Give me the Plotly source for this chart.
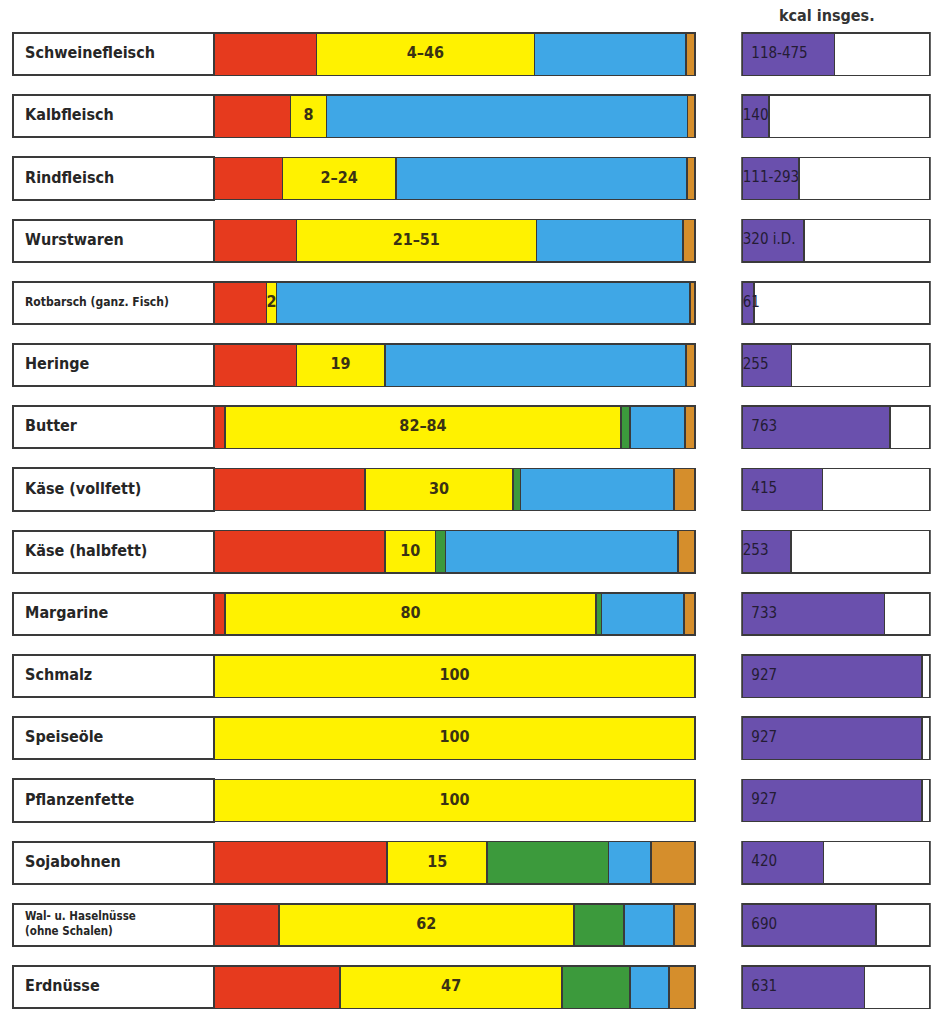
import plotly.graph_objects as go

# ---------------- data ----------------
foods = ["Schweinefleisch", "Kalbfleisch", "Rindfleisch", "Wurstwaren",
         "Rotbarsch (ganz. Fisch)", "Heringe", "Butter", "Käse (vollfett)",
         "Käse (halbfett)", "Margarine", "Schmalz", "Speiseöle", "Pflanzenfette",
         "Sojabohnen", "Wal- u. Haselnüsse<br>(ohne Schalen)", "Erdnüsse"]

# shares of the bar (percent)
protein = [21.3, 15.9, 14.2, 17.1, 10.9, 17.1, 2.3, 31.4, 35.6, 2.3, 0, 0, 0, 36.0, 13.5, 26.2]
fat     = [45.3, 7.5, 23.6, 49.9, 2.1, 18.4, 82.3, 30.8, 10.4, 77.1, 100, 100, 100, 20.8, 61.3, 46.2]
carbs   = [0, 0, 0, 0, 0, 0, 1.9, 1.5, 2.1, 1.2, 0, 0, 0, 25.2, 10.4, 14.1]
water   = [31.5, 75.0, 60.5, 30.5, 86.0, 62.6, 11.4, 31.9, 48.4, 17.1, 0, 0, 0, 8.9, 10.4, 8.1]
mineral = [1.9, 1.6, 1.7, 2.5, 1.0, 1.9, 2.1, 4.4, 3.5, 2.3, 0, 0, 0, 9.1, 4.4, 5.4]

fat_labels = ["4–46", "8", "2–24", "21–51", "2", "19", "82–84", "30", "10", "80",
              "100", "100", "100", "15", "62", "47"]

kcal = [475, 140, 293, 320, 61, 255, 763, 415, 253, 733, 927, 927, 927, 420, 690, 631]
kcal_labels = ["118-475", "140", "111-293", "320 i.D.", "61", "255", "763", "415", "253",
               "733", "927", "927", "927", "420", "690", "631"]
kcal_max = 968

# ---------------- style ----------------
W, H = 933, 1011
RED, YEL, GRN, BLU, ORA, PUR = "#e63a1e", "#fff200", "#3c9a3c", "#3fa7e6", "#d58e2c", "#6a50ad"
EDGE = "#3a3a3a"
FONT = "DejaVu Sans Condensed, Liberation Sans Narrow, sans-serif"
BAR_W = 0.68


def dom(px0, px1, v0, v1, pad):
    k = (px1 - px0) / (v1 - v0)
    r0, r1 = v0 - pad, v1 + pad
    a, b = px0 - pad * k, px1 + pad * k
    return [a / W, b / W], [r0, r1]


main_dom, main_rng = dom(214, 695, 0, 100, 0.5)
kcal_dom, kcal_rng = dom(742, 930, 0, kcal_max, 4)
lab_dom, lab_rng = dom(13, 214, 0, 1, 0.01)

fig = go.Figure()

# label boxes
fig.add_bar(y=foods, x=[1] * len(foods), orientation="h", xaxis="x3", yaxis="y",
            marker=dict(color="white", line=dict(color=EDGE, width=2)), width=BAR_W,
            hoverinfo="skip", showlegend=False)
small = {"Rotbarsch (ganz. Fisch)": 12, "Wal- u. Haselnüsse<br>(ohne Schalen)": 11.5}
fig.add_scatter(y=foods, x=[0.06] * len(foods), xaxis="x3", yaxis="y", mode="text",
                text=[f"<b>{f}</b>" for f in foods], textposition="middle right",
                textfont=dict(family=FONT, size=[small.get(f, 16) for f in foods], color="#262626"),
                hoverinfo="skip", showlegend=False)

# composition bars
for vals, col, name in [(protein, RED, "Eiweiß"), (fat, YEL, "Fett"), (carbs, GRN, "Kohlenhydrate"),
                        (water, BLU, "Wasser"), (mineral, ORA, "Mineralstoffe")]:
    fig.add_bar(y=foods, x=vals, orientation="h", xaxis="x", yaxis="y", name=name,
                marker=dict(color=col, line=dict(color=EDGE, width=1.5)), width=BAR_W,
                showlegend=False)

fat_mid = [p + f / 2 for p, f in zip(protein, fat)]
fig.add_scatter(y=foods, x=fat_mid, xaxis="x", yaxis="y", mode="text",
                text=[f"<b>{t}</b>" for t in fat_labels],
                textposition="middle center",
                textfont=dict(family=FONT, size=16, color="#3a3214"),
                hoverinfo="skip", showlegend=False)

# kcal bars
fig.add_bar(y=foods, x=kcal, orientation="h", xaxis="x2", yaxis="y",
            marker=dict(color=PUR, line=dict(color=EDGE, width=1.5)), width=BAR_W,
            showlegend=False)
fig.add_bar(y=foods, x=[kcal_max - v for v in kcal], orientation="h", xaxis="x2", yaxis="y",
            marker=dict(color="white", line=dict(color=EDGE, width=1.5)), width=BAR_W,
            hoverinfo="skip", showlegend=False)
fig.add_scatter(y=foods, x=[48 if v > 350 else 4 for v in kcal], xaxis="x2", yaxis="y",
                mode="text", text=kcal_labels, textposition="middle right",
                textfont=dict(family=FONT, size=15, color="#241c34"),
                hoverinfo="skip", showlegend=False)

pitch = 62.2
top_u = -0.5 - 23 / pitch
bot_u = top_u + H / pitch

axis_off = dict(visible=False, showgrid=False, zeroline=False, fixedrange=True)
fig.update_layout(
    width=W, height=H, margin=dict(l=0, r=0, t=0, b=0),
    paper_bgcolor="white", plot_bgcolor="rgba(0,0,0,0)",
    barmode="stack", showlegend=False,
    xaxis=dict(domain=main_dom, range=main_rng, **axis_off),
    xaxis2=dict(domain=kcal_dom, range=kcal_rng, anchor="y", **axis_off),
    xaxis3=dict(domain=lab_dom, range=lab_rng, anchor="y", **axis_off),
    yaxis=dict(type="category", categoryorder="array", categoryarray=foods,
               range=[bot_u, top_u], **axis_off),
    annotations=[dict(text="<b>kcal insges.</b>", xref="paper", yref="paper",
                      x=827 / W, y=1 - 16 / H, xanchor="center", yanchor="middle",
                      showarrow=False,
                      font=dict(family=FONT, size=16, color="#333333"))],
)

fig.write_html("out.html")
